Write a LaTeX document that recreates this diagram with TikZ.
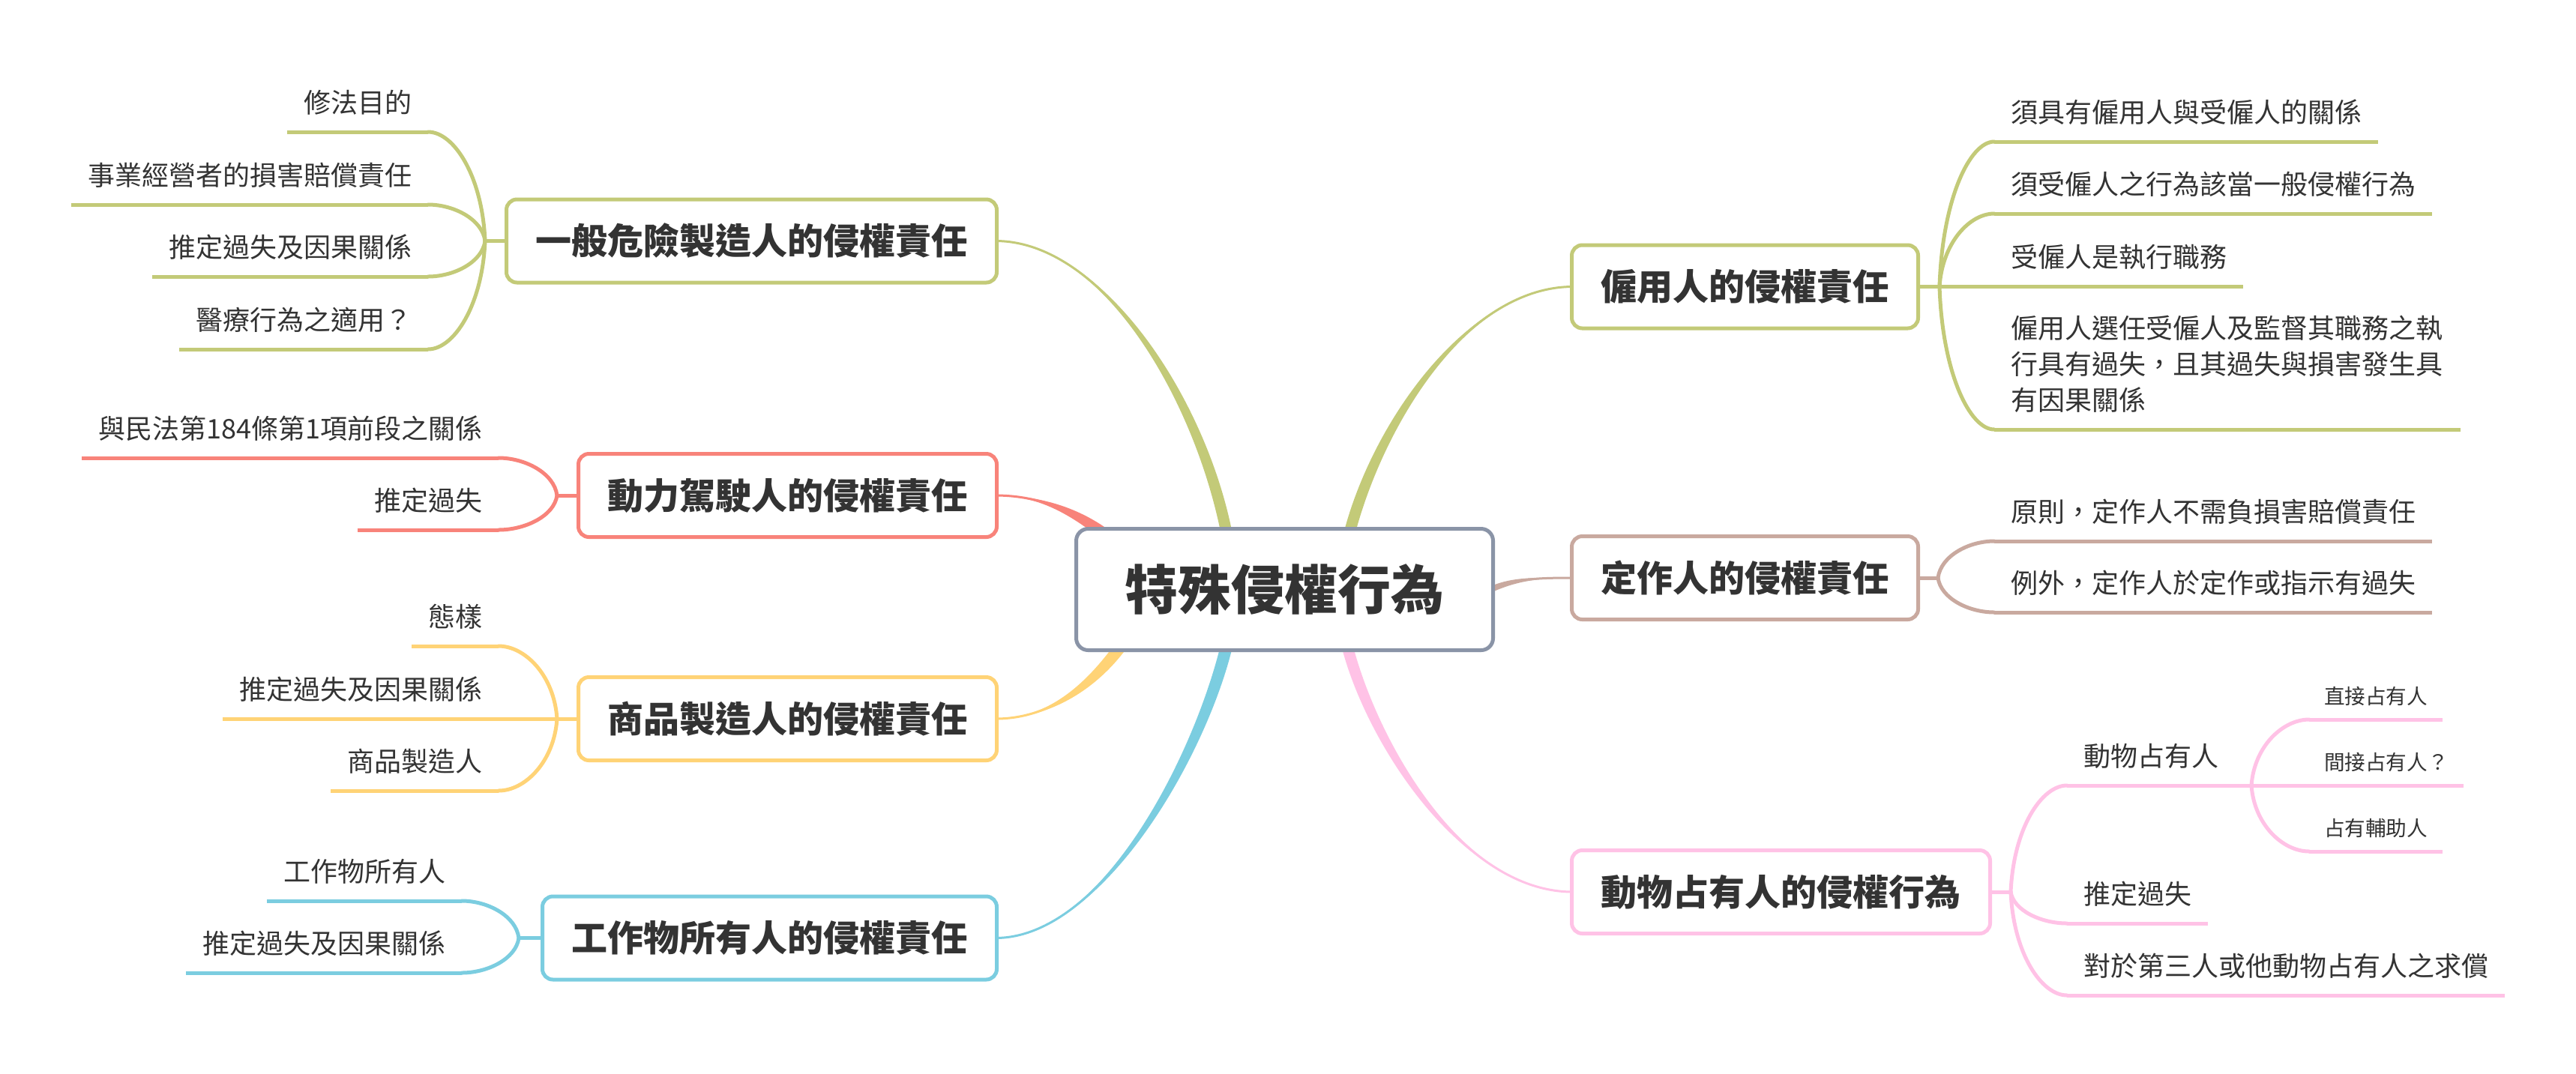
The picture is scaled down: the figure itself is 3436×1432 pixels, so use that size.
\documentclass[tikz,border=0pt]{standalone}
\usepackage{fontspec}
\setmainfont{Noto Sans CJK TC}
\usetikzlibrary{calc}
\pgfdeclarelayer{bg}\pgfdeclarelayer{edges}\pgfsetlayers{bg,edges,main}
\definecolor{olivec}{HTML}{C3CA78}
\definecolor{redc}{HTML}{F8837A}
\definecolor{yellowc}{HTML}{FFD376}
\definecolor{bluec}{HTML}{7BCDE0}
\definecolor{brownc}{HTML}{C9A99F}
\definecolor{pinkc}{HTML}{FFC2E6}
\definecolor{cgray}{HTML}{8A94A7}
\definecolor{txt}{HTML}{333333}
\tikzset{
 centralbox/.style={draw=cgray, line width=2.5pt, rounded corners=8pt, fill=white, text=txt,
   font=\bfseries\fontsize{35.5pt}{40pt}\selectfont, minimum width=278pt, minimum height=81pt,
   inner sep=0pt, text height=28.4pt, text depth=1.4pt},
 mainbox/.style={draw=#1, line width=2.5pt, rounded corners=7pt, fill=white, text=txt,
   font=\bfseries\fontsize{24pt}{28pt}\selectfont, minimum height=55.5pt,
   inner xsep=19.5pt, inner ysep=0pt, text height=19.2pt, text depth=1pt},
 leaf/.style={text=txt, font=\fontsize{18pt}{24pt}\selectfont, inner xsep=11pt, inner ysep=0pt,
   outer sep=0pt, text height=14pt, text depth=13pt},
 smallleaf/.style={text=txt, font=\fontsize{13.8pt}{18pt}\selectfont, inner xsep=10pt, inner ysep=0pt,
   outer sep=0pt, text height=11pt, text depth=10.3pt},
 uline/.style={draw=#1, line width=2.5pt},
 stub/.style={draw=#1, line width=2.5pt},
}
\newcommand\leafline[2]{\draw[uline=#1] (#2.south west) -- (#2.south east);}
\newcommand\leafbranch[3]{\draw[#1, line width=2.5pt, line cap=round] let \p1=(#2), \p2=(#3) in
  (\p1) .. controls ({\x1+0.05*(\x2-\x1)},{\y1+0.6*(\y2-\y1)}) and ({\x2+0.45*(\x1-\x2)},\y2) .. (\p2);}
\newcommand\thickedge[6]{%
 \fill[#1] let \p1=(#2), \p2=(#3), \p3=(#4), \p4=(#5), \n1={atan2(\y4-\y3,\x4-\x3)+90} in
  (\p1) .. controls (\p2) and ($(\p3)+(\n1:#6)$) .. ($(\p4)+(\n1:#6)$) -- ($(\p4)-(\n1:#6)$)
  .. controls ($(\p3)-(\n1:#6)$) and (\p2) .. (\p1) -- cycle;
 \draw[#1, line width=1.5pt] (#2) .. controls (#3) and (#4) .. (#5);}
\begin{document}
\begin{tikzpicture}[x=0.5pt, y=-0.5pt]
\begin{pgfonlayer}{bg}
\fill[white] (0,0) rectangle (3436,1432);
\end{pgfonlayer}
\useasboundingbox (0,0) rectangle (3436,1432);

% central
\node[centralbox] (c) at (1713.5,786.5) {特殊侵權行為};

% main topics
\node[mainbox=olivec, anchor=east] (n1) at (1332,321.5) {一般危險製造人的侵權責任};
\node[mainbox=redc, anchor=east] (n2) at (1332,661) {動力駕駛人的侵權責任};
\node[mainbox=yellowc, anchor=east] (n3) at (1332,959) {商品製造人的侵權責任};
\node[mainbox=bluec, anchor=east] (n4) at (1332,1251.5) {工作物所有人的侵權責任};
\node[mainbox=olivec, anchor=west] (n5) at (2094,382.5) {僱用人的侵權責任};
\node[mainbox=brownc, anchor=west] (n6) at (2094,771) {定作人的侵權責任};
\node[mainbox=pinkc, anchor=west] (n7) at (2094,1190) {動物占有人的侵權行為};

% junctions
\coordinate (j1) at (647,321.5);
\coordinate (j2) at (743,661);
\coordinate (j3) at (743,959);
\coordinate (j4) at (692,1251.5);
\coordinate (j5) at (2587,382.5);
\coordinate (j6) at (2585,771);
\coordinate (j7) at (2682,1190);
\coordinate (j8) at (3003,1048);

% leaves group 1
\node[leaf, anchor=south east] (a1) at (571,176) {修法目的};
\node[leaf, anchor=south east] (a2) at (571,273) {事業經營者的損害賠償責任};
\node[leaf, anchor=south east] (a3) at (571,369) {推定過失及因果關係};
\node[leaf, anchor=south east] (a4) at (571,466) {醫療行為之適用？};
% group 2
\node[leaf, anchor=south east] (b1) at (665,611) {與民法第184條第1項前段之關係};
\node[leaf, anchor=south east] (b2) at (665,707) {推定過失};
% group 3
\node[leaf, anchor=south east] (d1) at (665,862) {態樣};
\node[leaf, anchor=south east] (d2) at (665,959) {推定過失及因果關係};
\node[leaf, anchor=south east] (d3) at (665,1055) {商品製造人};
% group 4
\node[leaf, anchor=south east] (e1) at (616,1202) {工作物所有人};
\node[leaf, anchor=south east] (e2) at (616,1298) {推定過失及因果關係};
% group 5
\node[leaf, anchor=south west] (f1) at (2660,189) {須具有僱用人與受僱人的關係};
\node[leaf, anchor=south west] (f2) at (2660,285) {須受僱人之行為該當一般侵權行為};
\node[leaf, anchor=south west] (f3) at (2660,382.5) {受僱人是執行職務};
\node[leaf, anchor=south west, text height=62pt] (f4) at (2660,573)
  {\parbox[b]{289pt}{僱用人選任受僱人及監督其職務之執\\行具有過失，且其過失與損害發生具\\有因果關係}};
% group 6
\node[leaf, anchor=south west] (g1) at (2660,722) {原則，定作人不需負損害賠償責任};
\node[leaf, anchor=south west] (g2) at (2660,817) {例外，定作人於定作或指示有過失};
% group 7
\node[leaf, anchor=south west] (h1) at (2757,1048) {動物占有人};
\node[leaf, anchor=south west] (h2) at (2757,1232) {推定過失};
\node[leaf, anchor=south west] (h3) at (2757,1328) {對於第三人或他動物占有人之求償};
% group 8
\node[smallleaf, anchor=south west] (k1) at (3080,960) {直接占有人};
\node[smallleaf, anchor=south west] (k2) at (3080,1048) {間接占有人？};
\node[smallleaf, anchor=south west] (k3) at (3080,1136) {占有輔助人};

% underlines
\foreach \n in {a1,a2,a3,a4} {\leafline{olivec}{\n}}
\foreach \n in {b1,b2} {\leafline{redc}{\n}}
\foreach \n in {d1,d2,d3} {\leafline{yellowc}{\n}}
\foreach \n in {e1,e2} {\leafline{bluec}{\n}}
\foreach \n in {f1,f2,f3,f4} {\leafline{olivec}{\n}}
\foreach \n in {g1,g2} {\leafline{brownc}{\n}}
\foreach \n in {h1,h2,h3,k1,k2,k3} {\leafline{pinkc}{\n}}

\begin{pgfonlayer}{edges}
% main connectors (tapered)
\thickedge{olivec}{$(n1.east)+(-4,0)$}{1470,321.5}{1600,530}{$(c.north)+(-77.5,8)$}{3.75pt}
\thickedge{redc}{$(n2.east)+(-4,0)$}{1390,661}{1440,685}{1485,722}{4pt}
\thickedge{yellowc}{$(n3.east)+(-4,0)$}{1400,959}{1458,915}{1500,855}{4pt}
\thickedge{bluec}{$(n4.east)+(-4,0)$}{1470,1251.5}{1600,1010}{$(c.south)+(-77.5,-8)$}{4pt}
\thickedge{olivec}{$(n5.west)+(4,0)$}{1960,382.5}{1840,560}{$(c.north)+(86.5,8)$}{3.75pt}
\thickedge{brownc}{$(n6.west)+(4,0)$}{2050,771}{2020,772}{$(c.east)+(-8,1)$}{2pt}
\thickedge{pinkc}{$(n7.west)+(4,0)$}{1950,1190}{1830,990}{$(c.south)+(83.5,-8)$}{3.75pt}

% stubs
\draw[stub=olivec] (n1.west) -- (j1);
\draw[stub=redc] (n2.west) -- (j2);
\draw[stub=yellowc] (n3.west) -- (j3);
\draw[stub=bluec] (n4.west) -- (j4);
\draw[stub=olivec] (n5.east) -- (j5);
\draw[stub=brownc] (n6.east) -- (j6);
\draw[stub=pinkc] (n7.east) -- (j7);
\draw[stub=pinkc] (h1.south east) -- (j8);

% branches
\leafbranch{olivec}{j1}{a1.south east}
\leafbranch{olivec}{j1}{a2.south east}
\leafbranch{olivec}{j1}{a3.south east}
\leafbranch{olivec}{j1}{a4.south east}
\leafbranch{redc}{j2}{b1.south east}
\leafbranch{redc}{j2}{b2.south east}
\leafbranch{yellowc}{j3}{d1.south east}
\leafbranch{yellowc}{j3}{d2.south east}
\leafbranch{yellowc}{j3}{d3.south east}
\leafbranch{bluec}{j4}{e1.south east}
\leafbranch{bluec}{j4}{e2.south east}
\leafbranch{olivec}{j5}{f1.south west}
\leafbranch{olivec}{j5}{f2.south west}
\leafbranch{olivec}{j5}{f3.south west}
\leafbranch{olivec}{j5}{f4.south west}
\leafbranch{brownc}{j6}{g1.south west}
\leafbranch{brownc}{j6}{g2.south west}
\leafbranch{pinkc}{j7}{h1.south west}
\leafbranch{pinkc}{j7}{h2.south west}
\leafbranch{pinkc}{j7}{h3.south west}
\leafbranch{pinkc}{j8}{k1.south west}
\leafbranch{pinkc}{j8}{k2.south west}
\leafbranch{pinkc}{j8}{k3.south west}
\end{pgfonlayer}
\end{tikzpicture}
\end{document}
